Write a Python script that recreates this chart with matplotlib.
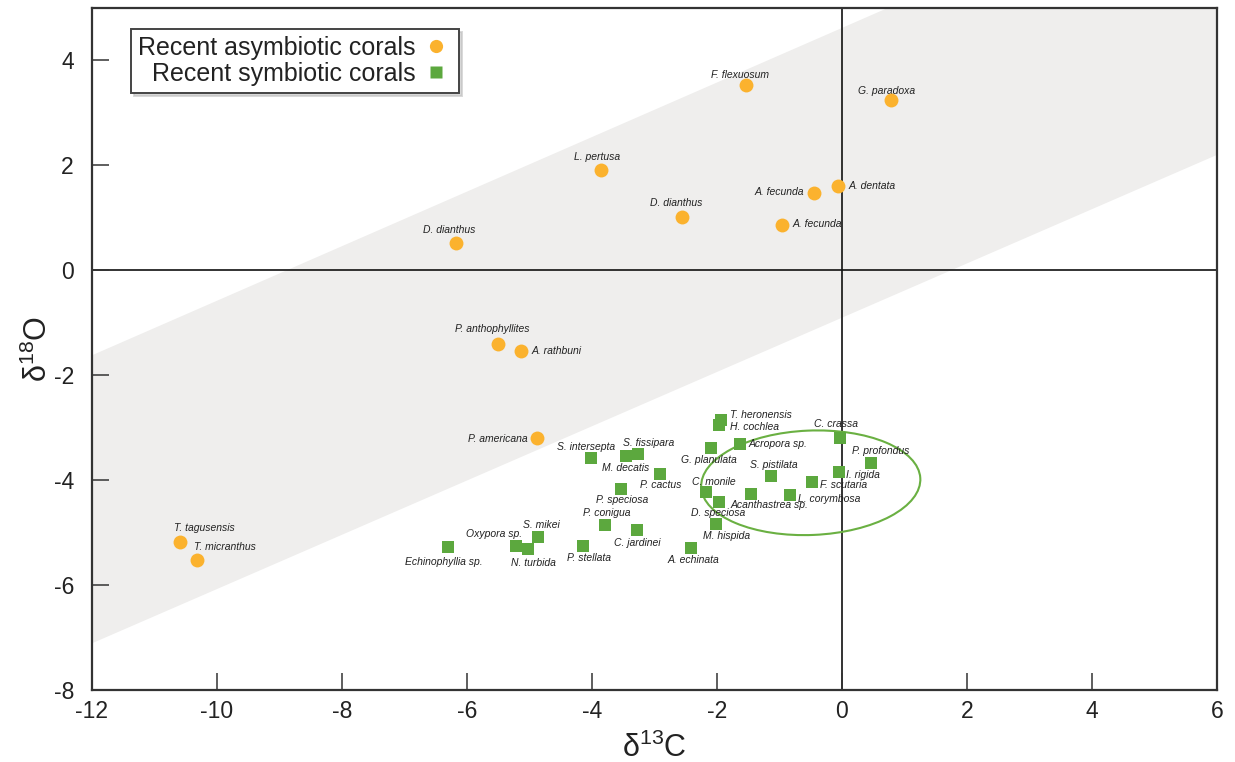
import matplotlib
matplotlib.use("Agg")
import matplotlib.pyplot as plt
from matplotlib.patches import Ellipse
from matplotlib.lines import Line2D

plt.rcParams['font.family'] = ['Liberation Sans', 'DejaVu Sans']
plt.rcParams['mathtext.fontset'] = 'custom'
plt.rcParams['mathtext.rm'] = 'Liberation Sans'
plt.rcParams['mathtext.it'] = 'Liberation Sans:italic'
plt.rcParams['axes.unicode_minus'] = False

# recent asymbiotic corals (d13C, d18O)
ASYM_NAMES = ["F. flexuosum", "G. paradoxa", "L. pertusa", "A. dentata", "A. fecunda",
              "D. dianthus", "A. fecunda", "D. dianthus", "P. anthophyllites", "A. rathbuni",
              "P. americana", "T. tagusensis", "T. micranthus"]
ASYM_D13C = [-1.53, 0.79, -3.85, -0.06, -0.45, -2.56, -0.96, -6.17, -5.51, -5.13, -4.88, -10.60, -10.32]
ASYM_D18O = [3.54, 3.24, 1.92, 1.61, 1.48, 1.01, 0.87, 0.53, -1.40, -1.53, -3.20, -5.18, -5.52]

# recent symbiotic corals
SYM_NAMES = ["Echinophyllia sp.", "Oxypora sp.", "N. turbida", "S. mikei", "P. stellata",
             "P. conigua", "C. jardinei", "A. echinata", "S. intersepta", "M. decatis",
             "S. fissipara", "P. cactus", "P. speciosa", "G. planulata", "T. heronensis",
             "H. cochlea", "Acropora sp.", "C. crassa", "P. profondus", "I. rigida",
             "F. scutaria", "S. pistilata", "L. corymbosa", "Acanthastrea sp.", "C. monile",
             "D. speciosa", "M. hispida"]
SYM_D13C = [-6.30, -5.21, -5.02, -4.86, -4.14, -3.79, -3.28, -2.41, -4.01, -3.45,
            -3.27, -2.91, -3.53, -2.10, -1.94, -1.97, -1.63, -0.04, 0.47, -0.05,
            -0.48, -1.13, -0.84, -1.46, -2.17, -1.97, -2.01]
SYM_D18O = [-5.27, -5.26, -5.32, -5.09, -5.25, -4.85, -4.95, -5.29, -3.58, -3.54,
            -3.51, -3.88, -4.16, -3.39, -2.85, -2.94, -3.32, -3.20, -3.67, -3.84,
            -4.03, -3.93, -4.28, -4.27, -4.23, -4.41, -4.83]

# grey equilibrium band (edges at the x limits)
BAND_X = [-12, 6]
BAND_LOW = [-7.11, 2.20]
BAND_HIGH = [-1.62, 7.74]

XTICKS = [-12, -10, -8, -6, -4, -2, 0, 2, 4, 6]
YTICKS = [-8, -6, -4, -2, 0, 2, 4]

# label placement: (dx px, dy px, ha)
ASYM_LAB = [(-6, 10, 'center'), (-5, 9, 'center'), (-4, 13, 'center'), (10, 0, 'left'),
            (-10, 1, 'right'), (-6, 14, 'center'), (11, 1, 'left'), (-7, 13, 'center'),
            (-5, 15, 'center'), (10, 0, 'left'), (-9, -1, 'right'), (-6, 14, 'left'),
            (-3, 13, 'left')]
SYM_LAB = [(-4, -15, 'center'), (6, 12, 'right'), (5, -14, 'center'), (3, 12, 'center'),
           (6, -12, 'center'), (2, 12, 'center'), (0, -13, 'center'), (2, -12, 'center'),
           (-5, 11, 'center'), (-1, -12, 'center'), (11, 11, 'center'), (1, -11, 'center'),
           (1, -11, 'center'), (-2, -12, 'center'), (9, 5, 'left'), (11, -2, 'left'),
           (8, 0, 'left'), (-4, 14, 'center'), (9, 12, 'center'), (7, -3, 'left'),
           (8, -3, 'left'), (2, 11, 'center'), (9, -4, 'left'), (-20, -11, 'left'),
           (7, 10, 'center'), (-1, -11, 'center'), (10, -12, 'center')]

ORANGE = "#FBB22E"
GREEN = "#5CA83E"
INK = "#222222"
FRAME = "#333333"

fig = plt.figure(figsize=(12.35, 7.62), dpi=100)
ax = fig.add_axes([92/1235, 1-690/762, (1217-92)/1235, (690-8)/762])

ax.fill_between(BAND_X, BAND_LOW, BAND_HIGH, color="#EFEEED", lw=0, zorder=0)
ax.axhline(0, color="#111111", lw=1.2, zorder=1)
ax.axvline(0, color="#111111", lw=1.2, zorder=1)

ax.add_patch(Ellipse((-0.50, -4.05), 3.51, 1.99, angle=3, fill=False,
                     ec="#6AB042", lw=1.5, zorder=2))

ax.scatter(ASYM_D13C, ASYM_D18O, s=100, marker='o', color=ORANGE, lw=0, zorder=4)
ax.scatter(SYM_D13C, SYM_D18O, s=81, marker='s', color=GREEN, lw=0, zorder=4)

for names, xs, ys, labs in [(ASYM_NAMES, ASYM_D13C, ASYM_D18O, ASYM_LAB),
                            (SYM_NAMES, SYM_D13C, SYM_D18O, SYM_LAB)]:
    for n, x, y, (dx, dy, ha) in zip(names, xs, ys, labs):
        ax.annotate(n, (x, y), xytext=(dx, dy), textcoords='offset pixels',
                    ha=ha, va='center', fontsize=7.5, style='italic', color=INK, zorder=3)

ax.set_xlim(-12, 6)
ax.set_ylim(-8, 5)
ax.set_xticks(XTICKS)
ax.set_yticks(YTICKS)
ax.tick_params(direction='in', length=12, width=1.1, color=FRAME, labelsize=16.5,
               labelcolor=INK)
ax.tick_params(axis='x', pad=7)
ax.tick_params(axis='y', pad=13)
for sp in ax.spines.values():
    sp.set_color(FRAME)
    sp.set_linewidth(1.6)

ax.set_xlabel("δ$^{13}$C", fontsize=22, color=INK, labelpad=7)
ax.set_ylabel("δ$^{18}$O", fontsize=22, color=INK, labelpad=0)

handles = [Line2D([0], [0], marker='o', ls='', mfc=ORANGE, mec='none', ms=9.5),
           Line2D([0], [0], marker='s', ls='', mfc=GREEN, mec='none', ms=8)]
leg = ax.legend(handles, ["Recent asymbiotic corals", "Recent symbiotic corals"],
                loc='upper left', bbox_to_anchor=((131-92)/1125, (690-29)/682),
                borderaxespad=0, markerfirst=False, fontsize=18, handlelength=1.3,
                handletextpad=0.15, labelspacing=0.08, borderpad=0.28, fancybox=False,
                shadow={'ox': 2, 'oy': -2, 'color': '0.75', 'alpha': 0.6})
leg.get_frame().set_edgecolor("#444444")
leg.get_frame().set_linewidth(1.4)
for t in leg.get_texts():
    t.set_color(INK)

fig.savefig("out.png", dpi=100)
